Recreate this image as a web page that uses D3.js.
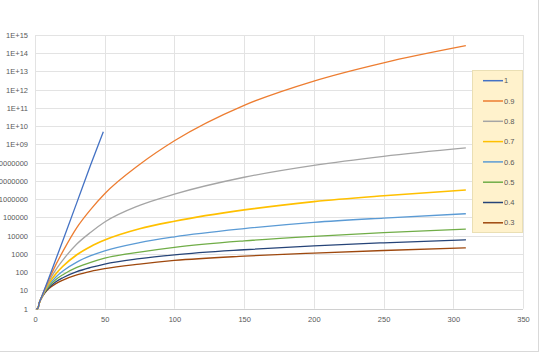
<!DOCTYPE html>
<html>
<head>
<meta charset="utf-8">
<script src="https://cdn.jsdelivr.net/npm/d3@7"></script>
<style>
  html, body { margin: 0; padding: 0; background: #fff; }
  svg { display: block; font-family: "Liberation Sans", Arial, sans-serif; }
</style>
</head>
<body>
<svg id="chart" width="540" height="353"></svg>
<script>
// data
var seriesNames = ["1", "0.9", "0.8", "0.7", "0.6", "0.5", "0.4", "0.3"];
var seriesColors = ["#4472C4", "#ED7D31", "#A5A5A5", "#FFC000", "#5B9BD5", "#70AD47", "#264478", "#9E480E"];

var xOne = [1, 2, 3, 5, 10, 20, 30, 40, 49];
var vOne = [1, 1, 2, 5, 50, 5500, 650000, 80000000, 5000000000];

var xRest = [1, 2, 3, 5, 7, 10, 15, 20, 30, 40, 50, 75, 100, 150, 200, 250, 309];
var v09 = [1, 1, 2, 4.9, 11.7, 40, 260, 1380, 28000, 280000, 2000000, 8e7, 1.6e9, 1.4e11, 3.0e12, 3.0e13, 2.6e14];
var v08 = [1, 1, 2, 4.7, 10.6, 31, 138, 465, 3500, 15500, 56000, 460000, 1900000, 1.6e7, 7.2e7, 2.25e8, 6.5e8];
var v07 = [1, 1, 2, 4.6, 9.7, 24.6, 83, 212, 910, 2600, 5800, 24000, 62000, 260000, 740000, 1550000, 3200000];
var v06 = [1, 1, 2, 4.5, 8.9, 20, 55, 117, 360, 800, 1480, 4200, 8700, 24500, 54000, 93000, 160000];
var v05 = [1, 1, 2, 4.4, 8.25, 16.9, 39.6, 73, 182, 350, 590, 1260, 2300, 5200, 9300, 14800, 23000];
var v04 = [1, 1, 2, 4.3, 7.7, 14.4, 30, 50, 107, 182, 280, 550, 890, 1700, 2800, 4100, 6000];
var v03 = [1, 1, 2, 4.2, 7.2, 12.6, 23.7, 37, 71, 112, 158, 280, 440, 760, 1120, 1550, 2140];

var xTickValues = [0, 50, 100, 150, 200, 250, 300, 350];
var yTickLabels = ["1", "10", "100", "1000", "10000", "100000", "1000000", "10000000", "100000000",
  "1E+09", "1E+10", "1E+11", "1E+12", "1E+13", "1E+14", "1E+15"];

var allSeries = [
  {name: seriesNames[0], xs: xOne, ys: vOne},
  {name: seriesNames[1], xs: xRest, ys: v09},
  {name: seriesNames[2], xs: xRest, ys: v08},
  {name: seriesNames[3], xs: xRest, ys: v07},
  {name: seriesNames[4], xs: xRest, ys: v06},
  {name: seriesNames[5], xs: xRest, ys: v05},
  {name: seriesNames[6], xs: xRest, ys: v04},
  {name: seriesNames[7], xs: xRest, ys: v03}
];

var svg = d3.select("#chart");
var plotLeft = 35, plotRight = 523, plotTop = 35, plotBottom = 308.7;

var x = d3.scaleLinear().domain([0, 350]).range([plotLeft, plotRight]);
var y = d3.scaleLog().domain([1, 1e15]).range([plotBottom, plotTop]);
var yTickValues = yTickLabels.map(function(d, i) { return Math.pow(10, i); });

// outer chart border (only right and bottom fall inside the picture)
svg.append("rect").attr("x", -1).attr("y", -1).attr("width", 539.5).attr("height", 352.5)
  .attr("fill", "none").attr("stroke", "#d9d9d9");

// gridlines
var grid = svg.append("g");
grid.selectAll(".hg").data(yTickValues).enter().append("line")
  .attr("x1", plotLeft).attr("x2", plotRight)
  .attr("y1", function(d) { return Math.round(y(d)) + 0.5; })
  .attr("y2", function(d) { return Math.round(y(d)) + 0.5; })
  .attr("stroke", "#e3e3e3").attr("stroke-width", 1);
grid.selectAll(".vg").data(xTickValues).enter().append("line")
  .attr("y1", plotTop).attr("y2", plotBottom)
  .attr("x1", function(d) { return Math.round(x(d)) + 0.5; })
  .attr("x2", function(d) { return Math.round(x(d)) + 0.5; })
  .attr("stroke", "#e3e3e3").attr("stroke-width", 1);
svg.append("line").attr("x1", plotLeft).attr("x2", plotRight)
  .attr("y1", Math.round(plotBottom) + 0.5).attr("y2", Math.round(plotBottom) + 0.5)
  .attr("stroke", "#d0d0d0");

// axes (labels only, Excel style)
var xAxis = svg.append("g").attr("transform", "translate(0," + plotBottom + ")")
  .call(d3.axisBottom(x).tickValues(xTickValues).tickSize(0).tickPadding(8));
var yAxis = svg.append("g").attr("transform", "translate(" + (plotLeft - 7) + ",0)")
  .call(d3.axisLeft(y).tickValues(yTickValues).tickSize(0).tickPadding(0)
    .tickFormat(function(d, i) { return yTickLabels[i]; }));
[xAxis, yAxis].forEach(function(a) {
  a.select(".domain").remove();
  a.selectAll("text").attr("fill", "#595959").attr("font-size", "7.5px")
    .attr("font-family", "'Liberation Sans', Arial, sans-serif");
});

// lines
var color = d3.scaleOrdinal().domain(seriesNames).range(seriesColors);
var line = d3.line()
  .x(function(d) { return x(d[0]); })
  .y(function(d) { return y(d[1]); })
  .curve(d3.curveMonotoneX);

svg.append("g").selectAll("path").data(allSeries.slice().reverse()).enter().append("path")
  .attr("d", function(s) { return line(s.xs.map(function(v, i) { return [v, s.ys[i]]; })); })
  .attr("fill", "none")
  .attr("stroke", function(s) { return color(s.name); })
  .attr("stroke-width", function(s) { return s.name == "0.7" ? 1.7 : 1.3; })
  .attr("stroke-linejoin", "round");

// legend
var legend = svg.append("g");
legend.append("rect").attr("x", 472.5).attr("y", 70.5).attr("width", 50).attr("height", 162)
  .attr("fill", "#FFF2CC").attr("stroke", "#EADFB4");
var items = legend.selectAll(".item").data(seriesNames).enter().append("g")
  .attr("transform", function(d, i) { return "translate(0," + (80.7 + i * 20.3) + ")"; });
items.append("line").attr("x1", 483).attr("x2", 503).attr("y1", 0).attr("y2", 0)
  .attr("stroke", function(d) { return color(d); }).attr("stroke-width", 1.5);
items.append("text").attr("x", 504).attr("y", 0).attr("dy", "0.35em")
  .attr("fill", "#595959").attr("font-size", "7.5px").text(function(d) { return d; });
</script>
</body>
</html>
